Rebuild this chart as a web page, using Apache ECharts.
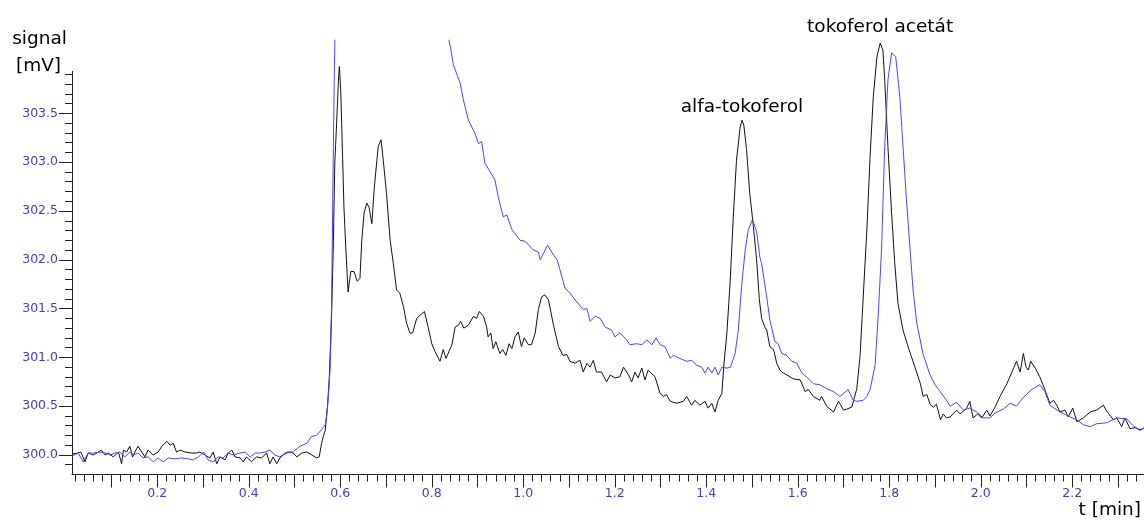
<!DOCTYPE html>
<html>
<head>
<meta charset="utf-8">
<script src="https://cdn.jsdelivr.net/npm/echarts@6/dist/echarts.min.js"></script>
<style>
  html, body { margin: 0; padding: 0; background: #fff; }
  #chart { width: 1144px; height: 522px; }
</style>
</head>
<body>
<div id="chart"></div>
<script>
// Chromatogram: detector signal [mV] versus retention time [min] for two runs.

// Black trace (sample run): [time min, signal mV]
const blackTrace = [
  [0.014,300.01],[0.016,300.02],[0.027,300.02],[0.033,300.03],[0.042,299.93],[0.049,300.02],[0.060,300.00],
  [0.071,300.03],[0.078,300.05],[0.086,300.00],[0.093,300.02],[0.104,299.98],[0.115,300.03],[0.122,299.91],
  [0.126,300.05],[0.133,300.03],[0.140,300.09],[0.146,299.98],[0.151,300.03],[0.158,300.09],[0.166,300.03],
  [0.173,299.98],[0.180,300.05],[0.191,300.00],[0.202,300.03],[0.210,300.09],[0.221,300.14],[0.228,300.10],
  [0.235,300.12],[0.242,300.03],[0.250,300.05],[0.261,300.03],[0.275,300.02],[0.286,300.02],[0.293,300.03],
  [0.304,300.00],[0.315,299.97],[0.322,300.03],[0.330,299.91],[0.337,299.98],[0.348,299.95],[0.355,300.02],
  [0.363,300.05],[0.370,299.98],[0.381,299.97],[0.388,299.93],[0.395,299.98],[0.406,299.93],[0.417,299.98],
  [0.428,299.97],[0.439,300.02],[0.446,299.91],[0.453,299.98],[0.461,299.91],[0.468,299.97],[0.475,300.00],
  [0.483,300.02],[0.490,300.03],[0.497,300.02],[0.505,299.98],[0.516,300.02],[0.527,300.03],[0.538,300.00],
  [0.548,299.97],[0.554,299.98],[0.559,300.12],[0.563,300.19],[0.567,300.25],[0.572,300.49],[0.576,300.80],
  [0.581,301.42],[0.585,302.20],[0.588,302.99],[0.592,303.40],[0.596,303.84],[0.598,303.98],[0.601,303.74],
  [0.603,303.40],[0.605,303.06],[0.608,302.54],[0.612,302.13],[0.617,301.67],[0.623,301.88],[0.630,301.88],
  [0.637,301.78],[0.643,301.81],[0.647,302.20],[0.652,302.48],[0.658,302.58],[0.663,302.54],[0.669,302.37],
  [0.674,302.72],[0.680,303.02],[0.683,303.16],[0.689,303.23],[0.694,303.02],[0.701,302.68],[0.709,302.20],
  [0.716,301.96],[0.723,301.69],[0.730,301.66],[0.738,301.52],[0.745,301.35],[0.752,301.25],[0.758,301.25],
  [0.767,301.40],[0.774,301.43],[0.784,301.47],[0.792,301.31],[0.800,301.14],[0.807,301.06],[0.818,300.96],
  [0.825,301.08],[0.831,300.99],[0.844,301.13],[0.851,301.31],[0.858,301.33],[0.863,301.37],[0.870,301.30],
  [0.880,301.33],[0.891,301.42],[0.898,301.40],[0.904,301.47],[0.913,301.42],[0.920,301.31],[0.923,301.21],
  [0.929,301.25],[0.934,301.09],[0.940,301.16],[0.949,301.04],[0.955,301.08],[0.962,301.02],[0.969,301.14],
  [0.975,301.09],[0.982,301.21],[0.989,301.26],[0.996,301.11],[1.002,301.20],[1.011,301.13],[1.018,301.13],
  [1.026,301.25],[1.033,301.49],[1.040,301.62],[1.047,301.64],[1.055,301.59],[1.066,301.33],[1.077,301.11],
  [1.087,301.02],[1.095,301.03],[1.102,300.96],[1.113,300.94],[1.124,300.97],[1.131,300.85],[1.139,300.94],
  [1.146,300.90],[1.153,300.97],[1.160,300.85],[1.171,300.85],[1.182,300.75],[1.190,300.82],[1.200,300.79],
  [1.211,300.80],[1.219,300.90],[1.230,300.82],[1.237,300.75],[1.244,300.85],[1.251,300.79],[1.259,300.89],
  [1.266,300.77],[1.273,300.87],[1.288,300.80],[1.299,300.63],[1.306,300.60],[1.313,300.62],[1.321,300.55],
  [1.335,300.53],[1.350,300.55],[1.357,300.60],[1.368,300.51],[1.375,300.56],[1.386,300.51],[1.397,300.55],
  [1.404,300.48],[1.412,300.53],[1.419,300.44],[1.426,300.56],[1.434,300.63],[1.438,300.90],[1.445,301.25],
  [1.452,301.76],[1.459,302.44],[1.466,303.02],[1.474,303.36],[1.478,303.43],[1.482,303.38],[1.488,303.13],
  [1.495,302.68],[1.503,302.34],[1.510,302.00],[1.516,301.59],[1.521,301.40],[1.528,301.31],[1.532,301.28],
  [1.539,301.11],[1.547,301.08],[1.554,300.94],[1.561,300.87],[1.568,300.84],[1.576,300.82],[1.590,300.78],
  [1.605,300.77],[1.609,300.73],[1.616,300.65],[1.623,300.67],[1.634,300.60],[1.637,300.58],[1.648,300.56],
  [1.652,300.60],[1.663,300.50],[1.678,300.44],[1.689,300.55],[1.700,300.46],[1.707,300.47],[1.718,300.49],
  [1.729,300.68],[1.736,301.01],[1.743,301.62],[1.751,302.31],[1.758,303.06],[1.765,303.67],[1.773,304.08],
  [1.780,304.22],[1.786,304.15],[1.790,303.84],[1.797,303.16],[1.805,302.48],[1.812,301.96],[1.819,301.55],
  [1.830,301.28],[1.841,301.11],[1.856,300.90],[1.868,300.73],[1.874,300.60],[1.882,300.62],[1.889,300.52],
  [1.896,300.49],[1.903,300.52],[1.912,300.36],[1.918,300.42],[1.925,300.38],[1.933,300.39],[1.947,300.46],
  [1.955,300.42],[1.969,300.48],[1.976,300.55],[1.983,300.38],[1.993,300.42],[2.002,300.38],[2.013,300.46],
  [2.020,300.40],[2.031,300.49],[2.042,300.60],[2.057,300.73],[2.068,300.85],[2.078,300.96],[2.086,300.85],
  [2.093,301.04],[2.099,300.90],[2.104,300.87],[2.109,300.96],[2.119,300.89],[2.129,300.80],[2.140,300.67],
  [2.151,300.53],[2.159,300.56],[2.166,300.51],[2.173,300.44],[2.184,300.46],[2.191,300.39],[2.201,300.48],
  [2.210,300.34],[2.224,300.38],[2.239,300.44],[2.253,300.46],[2.268,300.51],[2.275,300.45],[2.290,300.36],
  [2.297,300.38],[2.308,300.29],[2.315,300.38],[2.326,300.27],[2.337,300.28],[2.348,300.26],[2.356,300.27]
];

// Blue trace (standard run): [time min, signal mV]; the solvent front runs off scale
const blueTrace = [
  [0.014,299.99],[0.016,299.98],[0.027,300.02],[0.038,299.93],[0.049,300.02],[0.060,300.02],[0.075,300.03],
  [0.086,300.02],[0.097,300.00],[0.108,300.02],[0.118,300.03],[0.129,299.98],[0.140,300.03],[0.148,300.00],
  [0.158,300.02],[0.169,299.97],[0.180,299.98],[0.191,299.93],[0.202,299.97],[0.213,299.93],[0.224,299.97],
  [0.239,299.96],[0.253,299.97],[0.268,299.96],[0.279,299.95],[0.290,299.98],[0.301,300.03],[0.311,299.95],
  [0.322,299.93],[0.333,299.98],[0.344,299.97],[0.355,300.02],[0.366,300.00],[0.381,300.02],[0.392,300.03],
  [0.403,299.98],[0.414,300.02],[0.425,300.02],[0.435,300.03],[0.446,300.05],[0.457,300.00],[0.468,299.98],
  [0.483,300.03],[0.497,300.03],[0.512,300.09],[0.527,300.12],[0.537,300.19],[0.548,300.20],[0.559,300.26],
  [0.567,300.31],[0.570,300.40],[0.574,300.60],[0.578,300.90],[0.581,301.55],[0.583,302.40],[0.585,303.20],
  [0.587,303.90],[0.589,304.50],[0.600,305.40],[0.700,305.80],[0.800,304.70],[0.835,304.30],[0.840,304.20],
  [0.847,304.00],[0.862,303.81],[0.869,303.64],[0.880,303.43],[0.894,303.30],[0.902,303.19],[0.909,303.21],
  [0.916,302.99],[0.938,302.82],[0.945,302.65],[0.956,302.44],[0.964,302.46],[0.975,302.31],[0.993,302.20],
  [1.004,302.19],[1.022,302.10],[1.033,302.08],[1.037,302.00],[1.053,302.15],[1.066,302.05],[1.074,302.00],
  [1.080,301.90],[1.091,301.71],[1.102,301.66],[1.113,301.59],[1.131,301.49],[1.139,301.50],[1.146,301.37],
  [1.157,301.42],[1.168,301.40],[1.179,301.31],[1.193,301.28],[1.200,301.21],[1.211,301.25],[1.226,301.18],
  [1.233,301.13],[1.248,301.14],[1.259,301.13],[1.270,301.18],[1.281,301.13],[1.290,301.20],[1.299,301.13],
  [1.310,301.11],[1.321,300.99],[1.328,301.02],[1.342,300.99],[1.357,300.96],[1.368,300.97],[1.379,300.92],
  [1.390,300.90],[1.397,300.84],[1.404,300.90],[1.412,300.84],[1.419,300.90],[1.426,300.82],[1.434,300.90],
  [1.445,300.89],[1.453,300.90],[1.463,301.04],[1.470,301.28],[1.477,301.72],[1.485,302.10],[1.492,302.31],
  [1.501,302.41],[1.510,302.29],[1.517,302.03],[1.521,301.96],[1.532,301.62],[1.539,301.38],[1.550,301.16],
  [1.557,301.14],[1.565,301.04],[1.576,301.02],[1.587,300.96],[1.598,300.94],[1.609,300.84],[1.619,300.80],
  [1.634,300.73],[1.648,300.72],[1.663,300.68],[1.678,300.65],[1.692,300.60],[1.710,300.67],[1.721,300.56],
  [1.729,300.55],[1.743,300.56],[1.751,300.60],[1.758,300.67],[1.769,300.92],[1.776,301.45],[1.783,302.10],
  [1.790,303.16],[1.797,303.84],[1.805,304.12],[1.808,304.14],[1.814,304.08],[1.823,303.67],[1.830,303.16],
  [1.837,302.65],[1.845,302.13],[1.852,301.69],[1.860,301.35],[1.874,301.03],[1.889,300.82],[1.900,300.72],
  [1.911,300.65],[1.925,300.56],[1.933,300.50],[1.947,300.54],[1.962,300.46],[1.976,300.48],[1.991,300.44],
  [2.005,300.38],[2.020,300.38],[2.031,300.43],[2.049,300.47],[2.064,300.53],[2.078,300.50],[2.093,300.59],
  [2.111,300.67],[2.129,300.72],[2.140,300.65],[2.151,300.51],[2.173,300.44],[2.195,300.39],[2.210,300.36],
  [2.224,300.31],[2.239,300.29],[2.253,300.32],[2.275,300.33],[2.297,300.38],[2.319,300.37],[2.333,300.30],
  [2.348,300.25],[2.356,300.28]
];

// Peak annotations (on the black trace)
const peakNames  = ['alfa-tokoferol', 'tokoferol acetát'];
const peakTimes  = [1.478, 1.780];
const peakValues = [303.43, 304.22];

// Tick labels
const xTickLabels = [0.2, 0.4, 0.6, 0.8, 1.0, 1.2, 1.4, 1.6, 1.8, 2.0, 2.2];
const yTickLabels = [300.0, 300.5, 301.0, 301.5, 302.0, 302.5, 303.0, 303.5];

// Axis extents
const T_MIN = 0.0136, T_MAX = 2.3567;
const V_MIN = 299.8, V_MAX = 304.25;
const V_AXIS_TOP = 303.92;

// Tick positions: major every 0.1 min, minor every 0.02 min; minor every 0.1 mV
const r2 = v => Math.round(v * 100) / 100;
const xMajorTicks = [];
for (let i = 1; i <= 23; i++) xMajorTicks.push(r2(i * 0.1));
const xMinorTicks = [];
for (let i = 1; i <= 117; i++) if (i % 5 !== 0) xMinorTicks.push(r2(i * 0.02));
const yMinorTicks = [];
for (let k = -1; k <= 39; k++) if (k % 5 !== 0) yMinorTicks.push(r2(300 + k * 0.1));

const FONT = 'DejaVu Sans';
const LABEL_BLUE = '#4040c0';
const AXIS_COLOR = '#222';

const chart = echarts.init(document.getElementById('chart'), null, { renderer: 'canvas' });

const baseAxis = {
  type: 'value',
  splitLine: { show: false },
  axisLine: { show: false },
  axisLabel: { show: false },
  axisTick: { show: false }
};

chart.setOption({
  animation: false,
  backgroundColor: '#ffffff',
  grid: [
    { left: 72, right: 0, top: 40.2, bottom: 47.5 },
    { left: 72, width: 20, top: 71.4, bottom: 47.5 }
  ],
  xAxis: [
    Object.assign({}, baseAxis, {
      gridIndex: 0, min: T_MIN, max: T_MAX, position: 'bottom',
      axisLine: { show: true, onZero: false, lineStyle: { color: AXIS_COLOR, width: 1 } },
      axisTick: { show: true, customValues: xMajorTicks, length: 13, lineStyle: { color: AXIS_COLOR } },
      axisLabel: {
        show: true, customValues: xTickLabels, margin: 13,
        formatter: v => v.toFixed(1), color: LABEL_BLUE, fontFamily: FONT, fontSize: 12.5
      }
    }),
    Object.assign({}, baseAxis, {
      gridIndex: 0, min: T_MIN, max: T_MAX, position: 'bottom',
      axisLine: { show: false, onZero: false },
      axisTick: { show: true, customValues: xMinorTicks, length: 7, lineStyle: { color: AXIS_COLOR } }
    }),
    Object.assign({}, baseAxis, { gridIndex: 1, show: false, min: 0, max: 1 })
  ],
  yAxis: [
    Object.assign({}, baseAxis, {
      gridIndex: 0, min: V_MIN, max: V_MAX, position: 'left',
      axisLine: { show: false, onZero: false },
      axisTick: { show: true, customValues: yTickLabels, length: 13, lineStyle: { color: AXIS_COLOR } },
      axisLabel: {
        show: true, customValues: yTickLabels, margin: 14,
        formatter: v => v.toFixed(1), color: LABEL_BLUE, fontFamily: FONT, fontSize: 12.5
      }
    }),
    Object.assign({}, baseAxis, {
      gridIndex: 0, min: V_MIN, max: V_MAX, position: 'left',
      axisLine: { show: false, onZero: false },
      axisTick: { show: true, customValues: yMinorTicks, length: 7, lineStyle: { color: AXIS_COLOR } }
    }),
    Object.assign({}, baseAxis, {
      gridIndex: 1, min: V_MIN, max: V_AXIS_TOP, position: 'left',
      axisLine: { show: true, onZero: false, lineStyle: { color: AXIS_COLOR, width: 1 } }
    })
  ],
  series: [
    {
      name: 'sample', type: 'line', xAxisIndex: 0, yAxisIndex: 0,
      data: blackTrace, showSymbol: false, symbol: 'none', clip: true, silent: true,
      lineStyle: { color: '#111111', width: 1 },
      markPoint: {
        symbol: 'circle', symbolSize: 0, silent: true,
        label: { show: true, position: 'top', formatter: '{b}', color: '#000', fontFamily: FONT, fontSize: 18.5 },
        data: peakNames.map((n, i) => ({
          name: n, coord: [peakTimes[i], peakValues[i]],
          label: { distance: i === 0 ? 4 : 6 }
        }))
      }
    },
    {
      name: 'standard', type: 'line', xAxisIndex: 0, yAxisIndex: 0,
      data: blueTrace, showSymbol: false, symbol: 'none', clip: true, silent: true,
      lineStyle: { color: '#5a3cff', width: 1 }
    }
  ],
  graphic: [
    { type: 'text', style: { text: 'signal', x: 39.5, y: 39, fill: '#000', font: '18.5px "DejaVu Sans"', textAlign: 'center', textVerticalAlign: 'middle' } },
    { type: 'text', style: { text: '[mV]', x: 38.5, y: 66.5, fill: '#000', font: '18.5px "DejaVu Sans"', textAlign: 'center', textVerticalAlign: 'middle' } },
    { type: 'text', style: { text: 't [min]', x: 1141, y: 510, fill: '#000', font: '18.5px "DejaVu Sans"', textAlign: 'right', textVerticalAlign: 'middle' } }
  ]
});
</script>
</body>
</html>
